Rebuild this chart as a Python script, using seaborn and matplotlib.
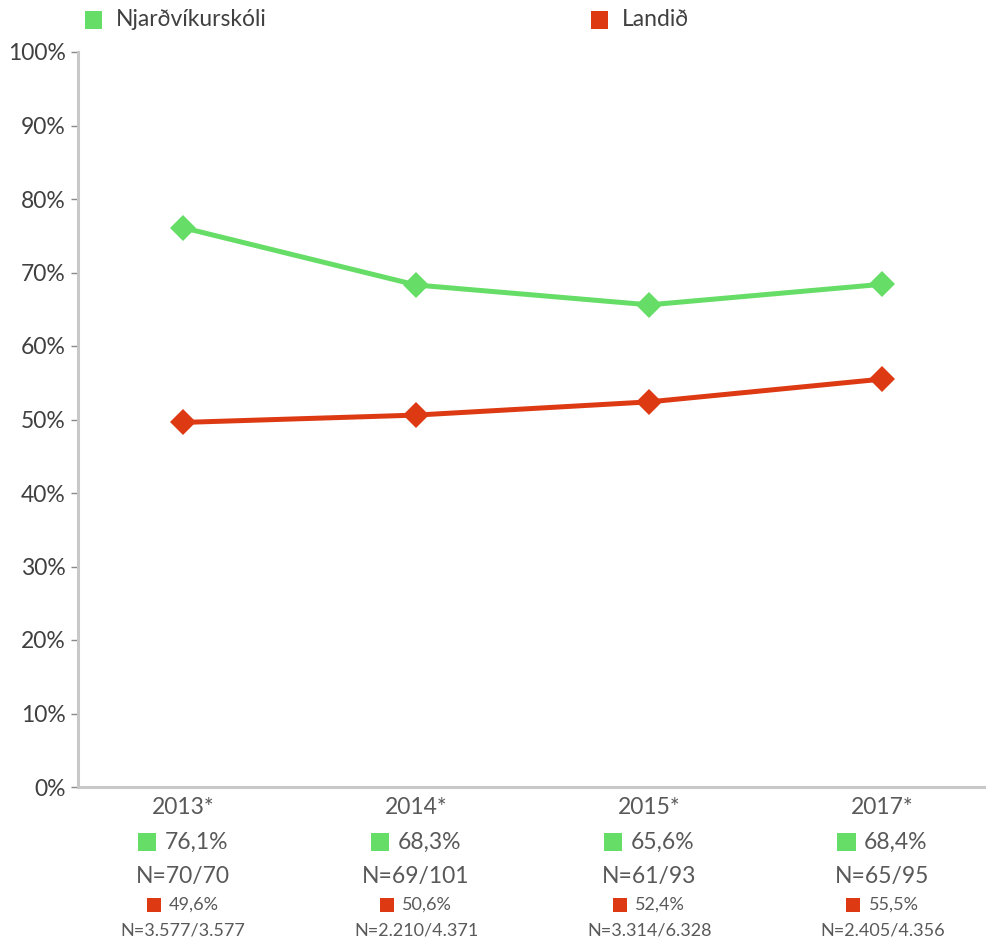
import matplotlib
matplotlib.use("Agg")
import matplotlib.pyplot as plt
from matplotlib.patches import Rectangle
from matplotlib.offsetbox import DrawingArea, TextArea, HPacker, AnnotationBbox
from matplotlib.ticker import FuncFormatter
import pandas as pd
import seaborn as sns

# --- data -------------------------------------------------------------
years = ["2013*", "2014*", "2015*", "2017*"]
school_name = "Njarðvíkurskóli"
country_name = "Landið"
school_pct = [76.1, 68.3, 65.6, 68.4]
country_pct = [49.6, 50.6, 52.4, 55.5]
school_n = ["N=70/70", "N=69/101", "N=61/93", "N=65/95"]
country_n = ["N=3.577/3.577", "N=2.210/4.371", "N=3.314/6.328", "N=2.405/4.356"]

GREEN = "#66dd66"
RED = "#dd3a14"
TEXT = "#595959"
AXIS_GREY = "#c8c8c8"

df = pd.DataFrame({
    "year": years * 2,
    "pos": list(range(len(years))) * 2,
    "value": school_pct + country_pct,
    "group": [school_name] * len(years) + [country_name] * len(years),
})

sns.set_theme(style="white")
plt.rcParams["font.family"] = ["Lato", "DejaVu Sans"]

W, H, DPI = 987, 942, 100
fig = plt.figure(figsize=(W / DPI, H / DPI), dpi=DPI)
ax = fig.add_axes([78 / W, 1 - 787 / H, (985 - 78) / W, (787 - 52) / H])

sns.lineplot(
    data=df, x="pos", y="value", hue="group", style="group",
    palette={school_name: GREEN, country_name: RED},
    markers={school_name: "D", country_name: "D"},
    dashes=False, linewidth=3.6, markersize=13, markeredgewidth=0,
    sort=False, legend=False, ax=ax,
)

ax.set_xlim(-0.45, 3.44)
ax.set_ylim(0, 100)
ax.set_yticks(range(0, 101, 10))
ax.yaxis.set_major_formatter(FuncFormatter(lambda v, _: f"{int(v)}%"))
ax.set_xticks([])
ax.set_xlabel("")
ax.set_ylabel("")
ax.tick_params(axis="y", which="major", left=True, length=5, width=1,
               color="#888888", labelsize=16.5, labelcolor="#404040", pad=4)

for side in ("top", "right"):
    ax.spines[side].set_visible(False)
for side in ("left", "bottom"):
    ax.spines[side].set_color(AXIS_GREY)
    ax.spines[side].set_linewidth(2.2)

xform = ax.get_xaxis_transform()
h_ax = 787 - 52


def y_frac(py):
    return (787 - py) / h_ax


def swatch_label(x, py, color, text, size, box_pts, sep):
    da = DrawingArea(box_pts, box_pts, 0, 0)
    da.add_artist(Rectangle((0, 0), box_pts, box_pts, facecolor=color, edgecolor="none"))
    ta = TextArea(text, textprops=dict(color=TEXT, fontsize=size))
    pack = HPacker(children=[da, ta], align="center", pad=0, sep=sep)
    ab = AnnotationBbox(pack, (x, y_frac(py)), xycoords=xform, frameon=False,
                        box_alignment=(0.5, 0.5), annotation_clip=False)
    ax.add_artist(ab)


for i, yr in enumerate(years):
    ax.text(i, y_frac(807), yr, transform=xform, ha="center", va="center",
            fontsize=16.5, color=TEXT)
    swatch_label(i, 842, GREEN, f"{school_pct[i]:.1f}%".replace(".", ","), 16.5, 13, 6)
    ax.text(i, y_frac(877), school_n[i], transform=xform, ha="center", va="center",
            fontsize=16.5, color=TEXT)
    swatch_label(i, 905, RED, f"{country_pct[i]:.1f}%".replace(".", ","), 13, 10, 6)
    ax.text(i, y_frac(931), country_n[i], transform=xform, ha="center", va="center",
            fontsize=13, color=TEXT)

# legend across the top
for px, color, name in [(85, GREEN, school_name), (591, RED, country_name)]:
    da = DrawingArea(12.5, 12.5, 0, 0)
    da.add_artist(Rectangle((0, 0), 12.5, 12.5, facecolor=color, edgecolor="none"))
    ta = TextArea(name, textprops=dict(color="#404040", fontsize=16.5))
    pack = HPacker(children=[da, ta], align="center", pad=0, sep=10)
    ab = AnnotationBbox(pack, (px / W, 1 - 20 / H), xycoords="figure fraction",
                        frameon=False, box_alignment=(0.0, 0.5), annotation_clip=False)
    fig.add_artist(ab)

fig.savefig("out.png", dpi=DPI)
